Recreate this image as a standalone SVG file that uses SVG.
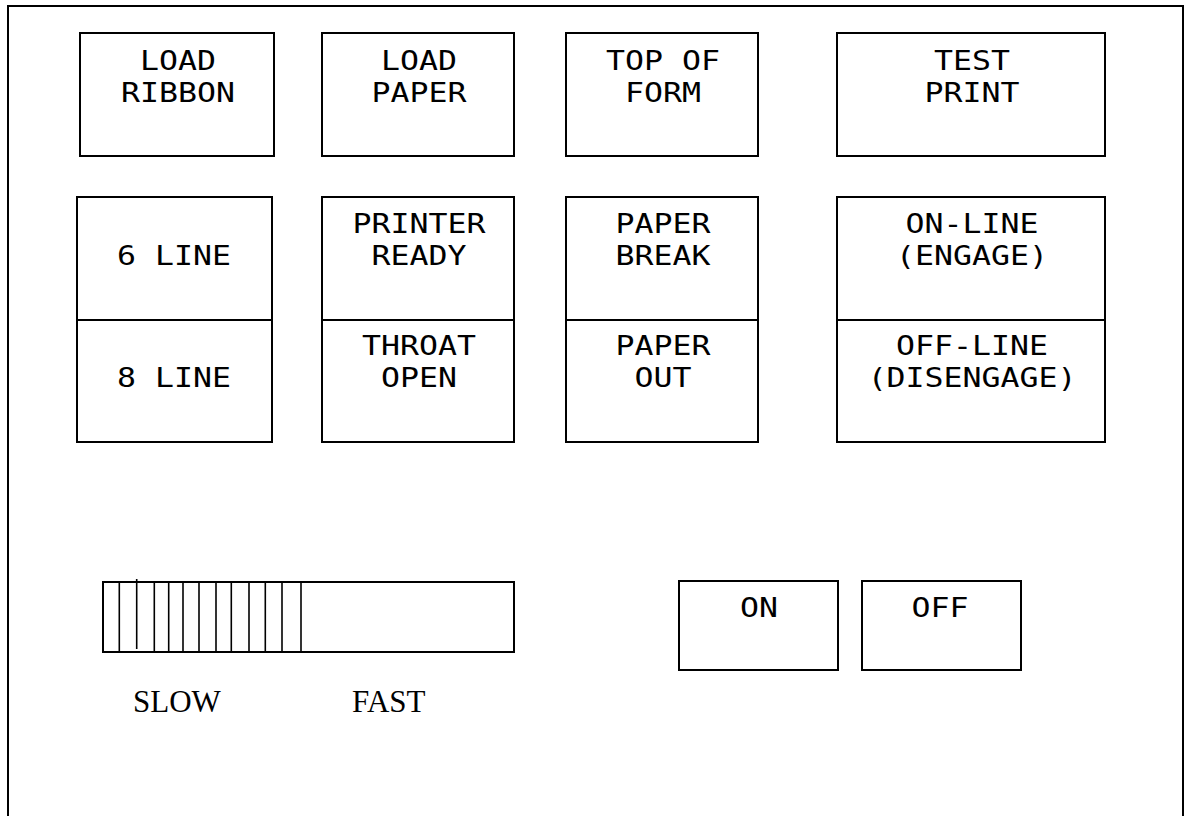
<svg xmlns="http://www.w3.org/2000/svg" width="1185" height="816" viewBox="0 0 1185 816">
<style>
.b{fill:none;stroke:#000;stroke-width:2}
.t{font-family:"DejaVu Sans Mono","Liberation Mono",monospace;font-size:26.5px;fill:#000;text-anchor:middle}
.s{font-family:"Liberation Serif","Times New Roman",serif;font-size:31px;fill:#000}
.g{stroke:#000;stroke-width:1.6}
</style>
<rect width="1185" height="816" fill="#fff"/>
<rect class="b" x="8" y="6" width="1175" height="840"/>
<g id="load-ribbon"><rect class="b" x="80" y="33" width="194" height="123"/><text class="t" transform="translate(178,70) scale(1.19,1)">LOAD</text><text class="t" transform="translate(178,102) scale(1.19,1)">RIBBON</text></g>
<g id="load-paper"><rect class="b" x="322" y="33" width="192" height="123"/><text class="t" transform="translate(419,70) scale(1.19,1)">LOAD</text><text class="t" transform="translate(419,102) scale(1.19,1)">PAPER</text></g>
<g id="top-of-form"><rect class="b" x="566" y="33" width="192" height="123"/><text class="t" transform="translate(663,70) scale(1.19,1)">TOP OF</text><text class="t" transform="translate(663,102) scale(1.19,1)">FORM</text></g>
<g id="test-print"><rect class="b" x="837" y="33" width="268" height="123"/><text class="t" transform="translate(972,70) scale(1.19,1)">TEST</text><text class="t" transform="translate(972,102) scale(1.19,1)">PRINT</text></g>
<g id="line-select"><rect class="b" x="77" y="197" width="195" height="245"/><line class="b" x1="77" y1="320" x2="272" y2="320"/><text class="t" transform="translate(174,265) scale(1.19,1)">6 LINE</text><text class="t" transform="translate(174,387) scale(1.19,1)">8 LINE</text></g>
<g id="printer-ready"><rect class="b" x="322" y="197" width="192" height="245"/><line class="b" x1="322" y1="320" x2="514" y2="320"/><text class="t" transform="translate(419,233) scale(1.19,1)">PRINTER</text><text class="t" transform="translate(419,265) scale(1.19,1)">READY</text><text class="t" transform="translate(419,355) scale(1.19,1)">THROAT</text><text class="t" transform="translate(419,387) scale(1.19,1)">OPEN</text></g>
<g id="paper-break"><rect class="b" x="566" y="197" width="192" height="245"/><line class="b" x1="566" y1="320" x2="758" y2="320"/><text class="t" transform="translate(663,233) scale(1.19,1)">PAPER</text><text class="t" transform="translate(663,265) scale(1.19,1)">BREAK</text><text class="t" transform="translate(663,355) scale(1.19,1)">PAPER</text><text class="t" transform="translate(663,387) scale(1.19,1)">OUT</text></g>
<g id="on-line"><rect class="b" x="837" y="197" width="268" height="245"/><line class="b" x1="837" y1="320" x2="1105" y2="320"/><text class="t" transform="translate(972,233) scale(1.19,1)">ON-LINE</text><text class="t" transform="translate(972,265) scale(1.19,1)">(ENGAGE)</text><text class="t" transform="translate(972,355) scale(1.19,1)">OFF-LINE</text><text class="t" transform="translate(972,387) scale(1.19,1)">(DISENGAGE)</text></g>
<g id="speed-slider"><rect class="b" x="103" y="582" width="411" height="70"/>
<g class="g"><line x1="119.3" y1="582" x2="119.3" y2="652"/><line x1="136.7" y1="579" x2="136.7" y2="649"/><line x1="154.3" y1="582" x2="154.3" y2="652"/><line x1="168.7" y1="582" x2="168.7" y2="652"/><line x1="183" y1="582" x2="183" y2="652"/><line x1="199" y1="582" x2="199" y2="652"/><line x1="216" y1="582" x2="216" y2="652"/><line x1="231.3" y1="582" x2="231.3" y2="652"/><line x1="249" y1="582" x2="249" y2="652"/><line x1="265.3" y1="582" x2="265.3" y2="652"/><line x1="282" y1="582" x2="282" y2="652"/><line x1="301" y1="582" x2="301" y2="652"/></g>
<text class="s" x="133" y="712">SLOW</text><text class="s" x="352" y="712">FAST</text></g>
<g id="on"><rect class="b" x="679" y="581" width="159" height="89"/><text class="t" transform="translate(759,617) scale(1.19,1)">ON</text></g>
<g id="off"><rect class="b" x="862" y="581" width="159" height="89"/><text class="t" transform="translate(940,617) scale(1.19,1)">OFF</text></g>
<g id="connectors"/>
</svg>
